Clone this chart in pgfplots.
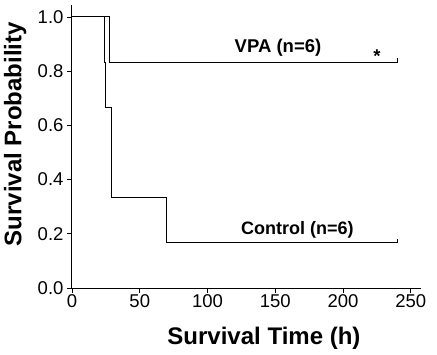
\documentclass[border=0pt]{standalone}
\usepackage{pgfplots}
\pgfplotsset{compat=1.18}
\usepackage{fontspec}
\setmainfont{Liberation Sans}
\begin{document}
\begin{tikzpicture}
\begin{axis}[
 width=349pt, height=283pt, scale only axis,
 xmin=0, xmax=257.5, ymin=0, ymax=1.044,
 axis x line=bottom, axis y line=left,
 axis line style={-, line width=1pt},
 xtick={0,50,100,150,200,250}, ytick={0,0.2,0.4,0.6,0.8,1.0},
 tick align=outside, major tick length=5pt,
 tick style={black, line width=0.8pt},
 ticklabel style={font=\fontsize{18.5}{20}\selectfont},
 /pgf/number format/assume math mode=true,
 yticklabel style={/pgf/number format/.cd, fixed, fixed zerofill, precision=1},
 xticklabel style={inner sep=1pt},
 xlabel={Survival Time (h)}, ylabel={Survival Probability},
 label style={font=\fontsize{24}{26}\selectfont\bfseries},
 xlabel style={at={(axis description cs:0.55,-0.177)}, anchor=center},
 ylabel style={at={(axis description cs:-0.163,0.544)}, anchor=center},
 clip=false,
]
\addplot[black, line width=1pt] coordinates {(0,1)(28,1)(28,0.8333)(240,0.8333)(240,0.85)};
\addplot[black, line width=1pt] coordinates {(0,1)(23.7,1)(23.7,0.8333)(24.5,0.8333)(24.5,0.6667)(29,0.6667)(29,0.5)(29.5,0.5)(29.5,0.3333)(70,0.3333)(70,0.1667)(240,0.1667)(240,0.18)};
\node[font=\fontsize{18.5}{20}\selectfont\bfseries] at (axis cs:152,0.886) {VPA (n=6)};
\node[font=\fontsize{18.5}{20}\selectfont\bfseries] at (axis cs:225,0.855) {*};
\node[font=\fontsize{18}{20}\selectfont\bfseries] at (axis cs:166.3,0.216) {Control (n=6)};
\end{axis}
\path ([shift={(-72pt,-66pt)}]current axis.south west) rectangle ([shift={(365pt,288pt)}]current axis.south west);
\end{tikzpicture}
\end{document}
